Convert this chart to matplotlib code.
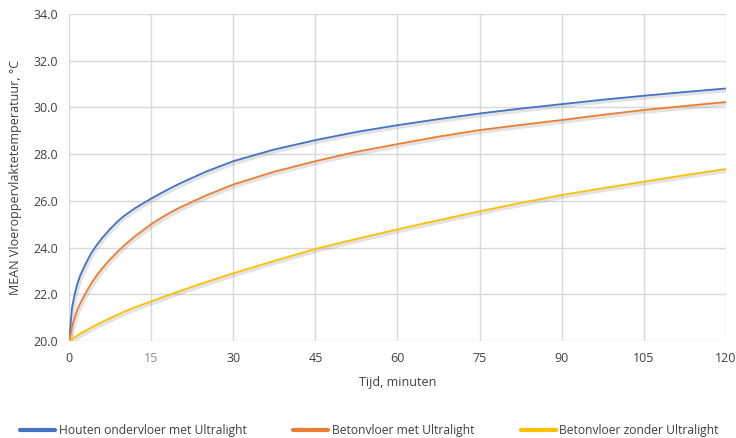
import matplotlib
matplotlib.use("Agg")
import matplotlib.pyplot as plt
import matplotlib.patheffects as pe

plt.rcParams["font.family"] = ["Open Sans", "DejaVu Sans"]

# minutes and mean floor surface temperature (degC)
tijd = [0, 0.5, 1, 1.5, 2, 3, 4, 5, 6, 7.5, 9, 10, 12, 15, 17.5, 20, 25, 30,
        37.5, 45, 52.5, 60, 67.5, 75, 82.5, 90, 97.5, 105, 112.5, 120]
houten_ul = [20.0, 21.4, 22.0, 22.45, 22.8, 23.3, 23.75, 24.1, 24.4, 24.8,
             25.15, 25.35, 25.68, 26.1, 26.42, 26.72, 27.25, 27.7, 28.2, 28.6,
             28.95, 29.24, 29.5, 29.74, 29.95, 30.14, 30.33, 30.5, 30.66, 30.81]
beton_ul = [20.0, 20.6, 21.0, 21.35, 21.6, 22.05, 22.45, 22.8, 23.1, 23.5,
            23.86, 24.08, 24.48, 25.0, 25.37, 25.69, 26.23, 26.7, 27.25, 27.7,
            28.1, 28.43, 28.75, 29.03, 29.25, 29.46, 29.68, 29.89, 30.06, 30.23]
beton_zonder = [20.0, 20.08, 20.16, 20.24, 20.31, 20.44, 20.57, 20.7, 20.81, 20.98,
                21.14, 21.25, 21.44, 21.7, 21.91, 22.12, 22.52, 22.9, 23.43, 23.94,
                24.37, 24.78, 25.17, 25.55, 25.91, 26.25, 26.54, 26.82, 27.1, 27.36]

labels = ["Houten ondervloer met Ultralight", "Betonvloer met Ultralight",
          "Betonvloer zonder Ultralight"]
colors = ["#4472C4", "#ED7D31", "#FFC000"]

x_ticks = list(range(0, 121, 15))
y_ticks = [20, 22, 24, 26, 28, 30, 32, 34]

fig = plt.figure(figsize=(7.36, 4.38), dpi=100)
ax = fig.add_axes([0.094, 0.2215, 0.892, 0.7465])

shadow = [pe.SimpleLineShadow(offset=(1, -1.5), shadow_color="gray", alpha=0.22, linewidth=2.5),
          pe.Normal()]
for series, lab, col in zip([houten_ul, beton_ul, beton_zonder], labels, colors):
    ax.plot(tijd, series, color=col, lw=1.3, label=lab, path_effects=shadow,
            solid_joinstyle="round", solid_capstyle="round")

ax.set_xlim(0, 120)
ax.set_ylim(20, 34)
ax.set_xticks(x_ticks)
ax.set_yticks(y_ticks)
ax.set_yticklabels([f"{v:.1f}" for v in y_ticks])
ax.grid(True, color="#d9d9d9", lw=1)
ax.set_axisbelow(True)
for s in ax.spines.values():
    s.set_visible(False)
ax.tick_params(length=0, labelsize=9, colors="#404040", pad=8)
ax.get_xticklabels()[1].set_color("#8c8c8c")

ax.set_xlabel("Tijd, minuten", fontsize=9, color="#404040", labelpad=8)
ax.set_ylabel("MEAN Vloeroppervlaktetemperatuur, °C", fontsize=9, color="#404040",
              labelpad=8)

fig.legend(loc="lower center", bbox_to_anchor=(0.502, -0.022), ncol=3, frameon=False,
           fontsize=8.7, handlelength=2.9, columnspacing=3.85, handletextpad=0.3,
           labelcolor="#404040")
for line in fig.legends[0].get_lines():
    line.set_linewidth(3)
    line.set_path_effects([])

fig.savefig("out.png", dpi=100)
